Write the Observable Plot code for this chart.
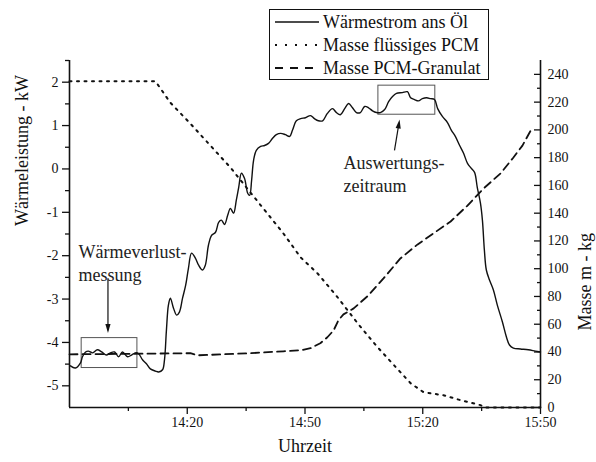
<!DOCTYPE html>
<html><head><meta charset="utf-8">
<script src="https://cdn.jsdelivr.net/npm/d3@7"></script>
<script src="https://cdn.jsdelivr.net/npm/@observablehq/plot@0.6"></script>
<style>body{margin:0;background:#fff}</style>
</head><body><div id="chart"></div>
<script>
// ---- data (time in minutes after 13:50) ----
const startClock = "13:50";
const powerMin = [0.25,1.5,2.8,3.3,4.1,4.8,5.9,7.1,8.2,9.4,10.4,11.5,12.5,13.5,14.8,15.8,16.8,17.6,18.6,19.6,20.6,21.9,22.7,23.7,24.2,24.7,25.2,25.7,26.5,27.3,28.0,28.8,29.6,30.3,31.1,32.1,32.9,33.9,34.6,35.4,36.2,37.2,38.0,38.7,39.5,40.3,41.0,41.8,42.5,43.1,43.8,44.6,45.4,45.9,46.4,46.9,47.6,48.7,49.7,50.7,51.7,52.7,53.8,55.0,56.1,56.8,57.8,58.9,60.1,61.4,62.4,63.4,64.5,65.7,67.0,68.0,69.0,70.1,71.1,72.1,73.1,74.1,75.2,76.2,77.2,78.2,79.2,80.3,81.3,82.3,83.3,84.8,86.1,86.9,87.9,88.9,89.9,91.0,92.0,93.0,93.8,95.0,96.3,97.3,98.3,99.4,100.4,101.4,102.4,103.2,103.9,104.7,105.2,105.7,106.2,107.0,108.0,109.0,110.3,111.3,112.1,113.1,114.9,116.9,118.7,120];
const powerKW = [-4.54,-4.59,-4.47,-4.33,-4.22,-4.20,-4.24,-4.17,-4.22,-4.29,-4.24,-4.22,-4.33,-4.22,-4.33,-4.29,-4.24,-4.26,-4.40,-4.49,-4.61,-4.66,-4.68,-4.63,-4.40,-3.71,-3.14,-2.98,-3.21,-3.37,-3.30,-2.98,-2.68,-2.29,-1.94,-2.06,-2.22,-2.33,-2.22,-1.76,-1.53,-1.46,-1.23,-1.18,-1.28,-1.07,-0.91,-1.02,-0.72,-0.43,-0.10,-0.22,-0.56,-0.61,-0.26,0.20,0.43,0.52,0.54,0.59,0.70,0.79,0.82,0.79,0.75,0.89,1.11,1.16,1.18,1.23,1.16,1.11,1.11,1.28,1.39,1.30,1.25,1.39,1.51,1.41,1.30,1.30,1.44,1.41,1.34,1.30,1.30,1.37,1.55,1.67,1.74,1.76,1.78,1.64,1.60,1.57,1.62,1.64,1.62,1.60,1.39,1.21,1.07,0.89,0.75,0.54,0.36,0.13,0.01,-0.08,-0.43,-0.79,-1.18,-1.87,-2.33,-2.56,-2.79,-3.14,-3.53,-3.87,-4.06,-4.13,-4.15,-4.17,-4.20,-4.22];
const liquidMin = [0,21.9,25.7,30.8,35.9,41.0,46.1,50.4,54.5,58.9,63.2,68.3,73.4,78.5,83.6,86.9,90.2,95.3,99.6,104.7,106,120];
const liquidKg  = [235,235,219.6,204.5,188.7,172.9,154.9,139.8,125.4,108.1,96.6,79.4,60.7,43.4,27.6,17.5,11.0,8.8,5.3,1.7,0,0];
const granMin = [0,30.8,32.6,46.1,54.5,58.9,61.4,63.9,65.7,67.3,68.5,69.8,72.4,75.9,80.0,84.3,88.7,92.7,97.1,101.4,105.5,109.8,113.1,115.4,117.5];
const granKg  = [38.3,39.1,37.6,39.1,40.5,41.2,42.7,46.3,50.6,55.6,62.8,67.1,71.4,80.1,93.0,107.4,117.5,125.4,134.0,145.5,157.8,168.6,180.1,188.7,199.5];
const kwTicks = [-5,-4,-3,-2,-1,0,1,2];
const kwMinorTicks = [-4.5,-3.5,-2.5,-1.5,-0.5,0.5,1.5,2.5];
const kgTicks = [0,20,40,60,80,100,120,140,160,180,200,220,240];
const kgMinorTicks = [10,30,50,70,90,110,130,150,170,190,210,230];
const timeTicks = ["14:20","14:50","15:20","15:50"];
const timeMinorTicks = ["14:05","14:35","15:05","15:35"];
const seriesNames = ["Wärmestrom ans Öl","Masse flüssiges PCM","Masse PCM-Granulat"];
const yLabelLeft = "Wärmeleistung - kW";
const yLabelRight = "Masse m - kg";
const xLabel = "Uhrzeit";
const noteLoss = "Wärmeverlust-\nmessung";
const noteEval = "Auswertungs-\nzeitraum";

// ---- helpers ----
const parseClock = s => { const [h, m] = s.split(":").map(Number); return new Date(Date.UTC(2000, 0, 1, h, m)); };
const T0 = parseClock(startClock).getTime();
const toDate = m => new Date(T0 + m * 60000);
const kwMin = -5.5, kwMax = 2.5, kgMax = 250;
const kgToKW = m => kwMin + m * (kwMax - kwMin) / kgMax;
const kwToKg = y => (y - kwMin) * kgMax / (kwMax - kwMin);

const power = powerMin.map((t, i) => ({t: toDate(t), v: powerKW[i]}));
const liquid = liquidMin.map((t, i) => ({t: toDate(t), v: kgToKW(liquidKg[i])}));
const gran = granMin.map((t, i) => ({t: toDate(t), v: kgToKW(granKg[i])}));

const boxes = [
  {x1: toDate(3.1), x2: toDate(17.3), y1: -4.59, y2: -3.90},
  {x1: toDate(78.7), x2: toDate(93.2), y1: 1.25, y2: 1.92}
];
const arrows = [
  {x1: toDate(9.8), y1: -2.52, x2: toDate(9.8), y2: -3.72, tx: toDate(9.8), ty: -3.78, rot: 180},
  {x1: toDate(82.8), y1: 0.43, x2: toDate(83.95), y2: 1.06, tx: toDate(84.1), ty: 1.14, rot: 9}
];
const notes = [
  {t: toDate(2.3), v: -1.69, text: noteLoss},
  {t: toDate(69.8), v: 0.36, text: noteEval}
];

const serif = "Liberation Serif";
const chart = Plot.plot({
  width: 596, height: 462,
  marginLeft: 69, marginRight: 56, marginTop: 60, marginBottom: 55,
  style: {fontFamily: serif, fontSize: "14px", color: "#111", background: "white", overflow: "visible"},
  x: {type: "utc", domain: [toDate(0), toDate(120)], axis: null},
  y: {domain: [kwMin, kwMax], axis: null},
  marks: [
    Plot.ruleX([toDate(0), toDate(120)], {stroke: "#111", strokeWidth: 1.6}),
    Plot.ruleY([kwMin], {stroke: "#111", strokeWidth: 1.6}),
    Plot.axisY(kwTicks, {anchor: "left", tickSize: 7, tickPadding: 4, strokeWidth: 1.3, fontSize: 14, tickFormat: d => String(d), label: null}),
    Plot.axisY(kwMinorTicks, {anchor: "left", tickSize: 4, strokeWidth: 1.3, tickFormat: () => "", label: null}),
    Plot.axisY(kgTicks.map(kgToKW), {anchor: "right", tickSize: -7, tickPadding: 14, strokeWidth: 1.3, fontSize: 14, tickFormat: y => String(Math.round(kwToKg(y))), label: null}),
    Plot.axisY(kgMinorTicks.map(kgToKW), {anchor: "right", tickSize: -4, strokeWidth: 1.3, tickFormat: () => "", label: null}),
    Plot.axisX(timeTicks.map(parseClock), {anchor: "bottom", tickSize: 7, tickPadding: 3, strokeWidth: 1.3, fontSize: 14, tickFormat: d3.utcFormat("%H:%M"), label: null}),
    Plot.axisX(timeMinorTicks.map(parseClock), {anchor: "bottom", tickSize: 4, strokeWidth: 1.3, tickFormat: () => "", label: null}),
    Plot.text([yLabelLeft], {text: d => d, frameAnchor: "left", rotate: -90, dx: -47, dy: -8, fontSize: 18}),
    Plot.text([yLabelRight], {text: d => d, frameAnchor: "right", rotate: -90, dx: 45, dy: -1, fontSize: 18}),
    Plot.text([xLabel], {text: d => d, frameAnchor: "bottom", dy: 44, fontSize: 18}),
    Plot.rect(boxes, {x1: "x1", x2: "x2", y1: "y1", y2: "y2", fill: "none", stroke: "#555", strokeWidth: 1}),
    Plot.line(gran, {x: "t", y: "v", stroke: "#111", strokeWidth: 1.8, strokeDasharray: "8 5"}),
    Plot.line(liquid, {x: "t", y: "v", stroke: "#111", strokeWidth: 2, strokeDasharray: "2 5.5"}),
    Plot.line(power, {x: "t", y: "v", stroke: "#111", strokeWidth: 1.4, curve: "catmull-rom"}),
    Plot.link(arrows, {x1: "x1", y1: "y1", x2: "x2", y2: "y2", stroke: "#111", strokeWidth: 1.2}),
    Plot.vector(arrows, {x: "tx", y: "ty", rotate: "rot", length: 9, r: 2.6, anchor: "end", shape: "spike", fill: "#111", fillOpacity: 1, stroke: "none"}),
    Plot.text(notes, {x: "t", y: "v", text: "text", textAnchor: "start", lineAnchor: "top", lineHeight: 1.25, fontSize: 18, fill: "#222"})
  ]
});

// legend (drawn into the same SVG)
const svg = d3.select(chart);
const lg = svg.append("g").attr("font-size", 18).attr("text-anchor", "start");
lg.append("rect").attr("x", 269.5).attr("y", 9.5).attr("width", 219).attr("height", 70)
  .attr("fill", "white").attr("stroke", "#111").attr("stroke-width", 1);
const dashes = [null, "2 8", "8 7"];
const widths = [1.4, 2, 1.8];
seriesNames.forEach((name, i) => {
  const y = 22 + i * 23;
  lg.append("line").attr("x1", 275).attr("x2", 319).attr("y1", y).attr("y2", y)
    .attr("stroke", "#111").attr("stroke-width", widths[i]).attr("stroke-dasharray", dashes[i]);
  lg.append("text").attr("x", 323).attr("y", y).attr("dy", "0.35em").attr("fill", "#111")
    .style("text-anchor", "start").text(name);
});
document.getElementById("chart").appendChild(chart);
</script></body></html>
